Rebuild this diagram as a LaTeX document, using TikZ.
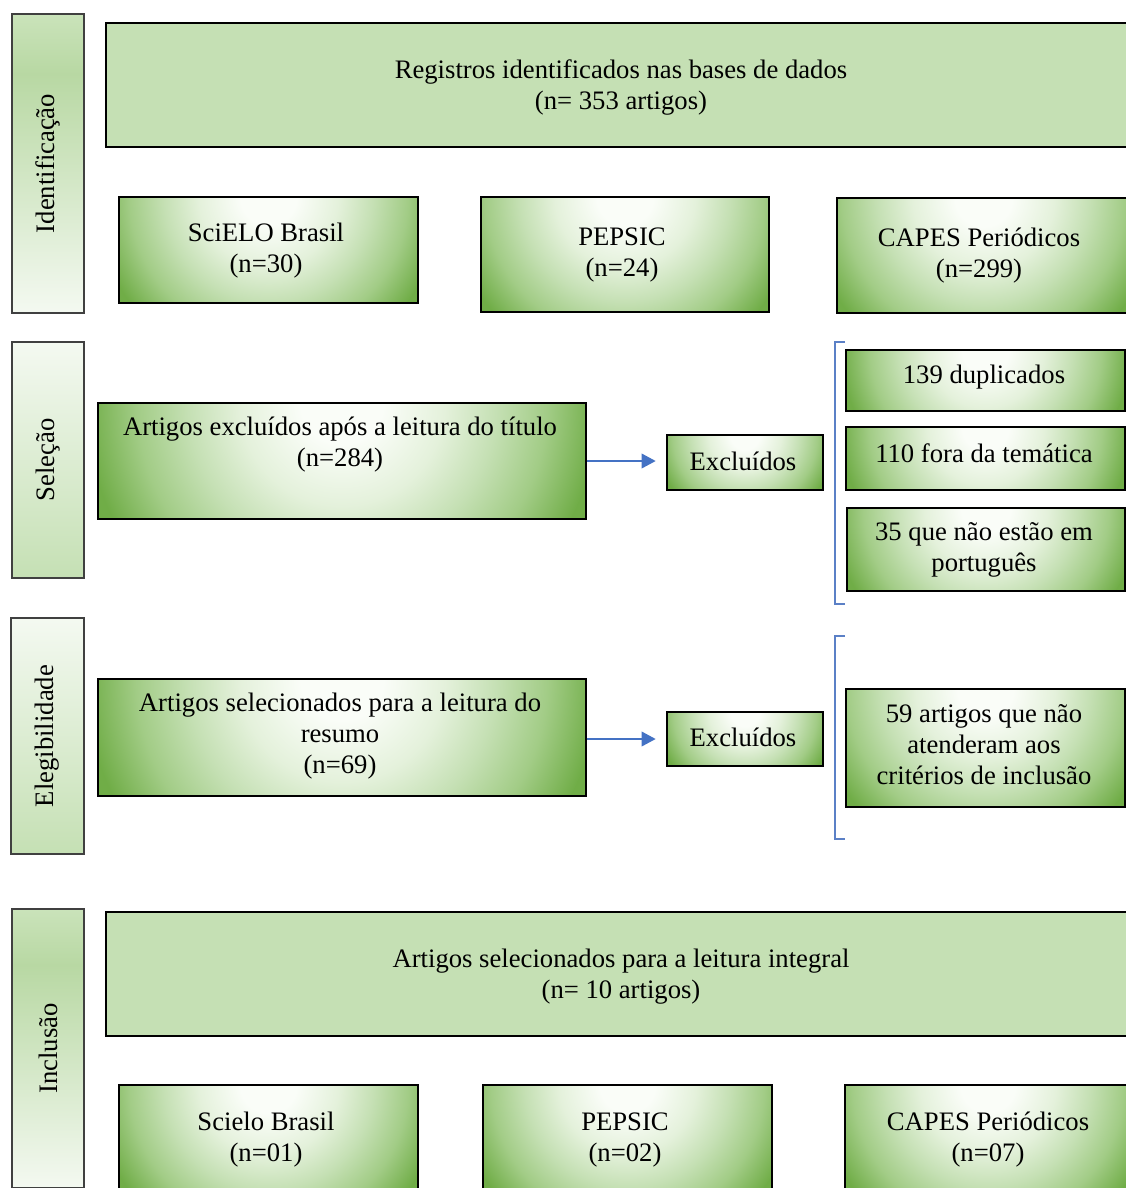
\documentclass[tikz,border=0pt]{standalone}
\usepackage{fontspec}
\setmainfont{Liberation Serif}
\usetikzlibrary{fit,calc,arrows.meta}
\definecolor{gdark}{HTML}{70AD47}
\definecolor{gmid}{HTML}{A2CC86}
\definecolor{glight}{HTML}{C5E0B4}
\definecolor{gpale}{HTML}{E4F1DB}
\definecolor{gwhite}{HTML}{FAFDF8}
\definecolor{sidegreen}{HTML}{B8D8A3}
\definecolor{sidetop}{HTML}{CAE3BA}
\definecolor{sidepale}{HTML}{F4F9F1}
\definecolor{arrblue}{HTML}{4472C4}
\definecolor{brblue}{HTML}{5B80C6}
\pgfdeclareradialshading{glow}{\pgfpointorigin}{color(0bp)=(gwhite); color(4bp)=(gwhite); color(10bp)=(gpale); color(15bp)=(glight); color(20bp)=(gmid); color(25bp)=(gdark); color(50bp)=(gdark)}
\pgfdeclareverticalshading{sidefade}{100bp}{color(0bp)=(sidepale); color(25bp)=(sidepale); color(65bp)=(sidegreen); color(75bp)=(sidetop); color(100bp)=(sidetop)}
\pgfdeclareverticalshading{siderise}{100bp}{color(0bp)=(glight); color(25bp)=(glight); color(75bp)=(sidepale); color(100bp)=(sidepale)}
\newcommand\mainfs{\fontsize{20pt}{23.25pt}\selectfont}
\tikzset{
  gbox/.style={draw=black, line width=1pt, fill=gdark, inner sep=0pt,
    path picture={\shade[shading=glow] let \p1=(path picture bounding box.south west), \p2=(path picture bounding box.north east), \n1={0.95*veclen((\x2-\x1)/2,\y2-\y1)} in (path picture bounding box.north) circle (\n1);}},
  lbox/.style={draw=black, line width=1.8pt, fill=glight, inner sep=0pt},
  txt/.style={align=center, font=\mainfs, inner sep=0pt},
  sidebox/.style={draw=black!75, line width=0.9pt, shade, shading=#1, inner sep=0pt},
  sidetext/.style={rotate=90, font=\mainfs, inner sep=0pt},
  arr/.style={draw=arrblue, line width=1.1pt, -{Triangle[length=10.5pt,width=11pt]}, shorten >=8pt},
  brk/.style={draw=brblue, line width=0.8pt}
}
\begin{document}
\begin{tikzpicture}[x=0.75pt,y=-0.75pt]
\useasboundingbox (0,0) rectangle (1126,1188);
\clip (0,0) rectangle (1126,1188);
% side labels
\node[sidebox=sidefade, fit={(12,14)(84,313)}] (sId) {};
\node[sidetext] (tId) at (sId.center) {Identificação};
\node[sidebox=siderise, fit={(12,342)(84,578)}] (sSel) {};
\node[sidetext] (tSel) at (sSel.center) {Seleção};
\node[sidebox=siderise, fit={(11,618)(84,854)}] (sEle) {};
\node[sidetext] (tEle) at (sEle.center) {Elegibilidade};
\node[sidebox=sidefade, fit={(12,909)(84,1188)}] (sInc) {};
\node[sidetext] (tInc) at (sInc.center) {Inclusão};
% identification
\node[lbox, fit={(106,23)(1136,147)}] (reg) {};
\node[txt] (regT) at (621,87) {Registros identificados nas bases de dados\\(n= 353 artigos)};
\node[gbox, fit={(119,197)(418,303)}] (sci) {};
\node[txt] (sciT) at (266,251) {SciELO Brasil\\(n=30)};
\node[gbox, fit={(481,197)(769,312)}] (pep) {};
\node[txt] (pepT) at (622,255.5) {PEPSIC\\(n=24)};
\node[gbox, fit={(837,198)(1130,313)}] (cap) {};
\node[txt] (capT) at (979,256) {CAPES Periódicos\\(n=299)};
% selection
\node[gbox, fit={(98,403)(586,519)}] (art1) {};
\node[txt] (art1T) at (340,444.5) {Artigos excluídos após a leitura do título\\(n=284)};
\node[gbox, fit={(667,435)(823,490)}] (exc1) {};
\node[txt] (exc1T) at (743,461) {Excluídos};
\node[gbox, fit={(846,350)(1125,411)}] (d1) {};
\node[txt] (d1T) at (984,377) {139 duplicados};
\node[gbox, fit={(846,427)(1125,490)}] (d2) {};
\node[txt] (d2T) at (984,453) {110 fora da temática};
\node[gbox, fit={(847,508)(1125,591)}] (d3) {};
\node[txt] (d3T) at (984,550) {35 que não estão em\\português};
\draw[arr] (art1.east) -- (art1.east -| exc1.west);
\coordinate (b1t) at (845,342);
\coordinate (b1b) at (845,604);
\draw[brk] (b1t) -- ++(-10,0) |- (b1b);
% eligibility
\node[gbox, fit={(98,679)(586,796)}] (art2) {};
\node[txt] (art2T) at (340,736) {Artigos selecionados para a leitura do\\resumo\\(n=69)};
\node[gbox, fit={(667,712)(823,766)}] (exc2) {};
\node[txt] (exc2T) at (743,737) {Excluídos};
\node[gbox, fit={(846,689)(1125,807)}] (e1) {};
\node[txt] (e1T) at (984,745) {59 artigos que não\\atenderam aos\\critérios de inclusão};
\draw[arr] (art2.east |- exc2.west) -- (exc2.west);
\coordinate (b2t) at (845,636);
\coordinate (b2b) at (845,839);
\draw[brk] (b2t) -- ++(-10,0) |- (b2b);
% inclusion
\node[lbox, fit={(106,912)(1136,1036)}] (reg2) {};
\node[txt] (reg2T) at (621,976.5) {Artigos selecionados para a leitura integral\\(n= 10 artigos)};
\node[gbox, fit={(119,1085)(418,1192)}] (sci2) {};
\node[txt] (sci2T) at (266,1140) {Scielo Brasil\\(n=01)};
\node[gbox, fit={(483,1085)(772,1192)}] (pep2) {};
\node[txt] (pep2T) at (625,1140) {PEPSIC\\(n=02)};
\node[gbox, fit={(845,1085)(1131,1192)}] (cap2) {};
\node[txt] (cap2T) at (988,1140) {CAPES Periódicos\\(n=07)};
\end{tikzpicture}
\end{document}
